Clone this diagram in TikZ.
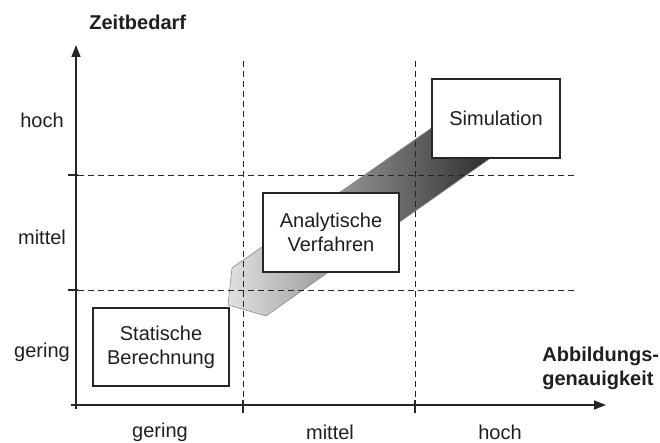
\documentclass[tikz,border=0pt]{standalone}
\usepackage{fontspec}
\setmainfont{Liberation Sans}
\usetikzlibrary{arrows.meta}

\tikzset{
  every node/.style={font=\fontsize{10}{12}\selectfont, text=black!88},
  axisline/.style={line width=0.75pt, draw=black!85},
  gridline/.style={line width=0.45pt, draw=black!85, dash pattern=on 3pt off 2pt},
  method/.style={draw=black!85, line width=0.6pt, fill=white, align=center,
    inner sep=0pt},
  axistitle/.style={font=\fontsize{10}{12}\selectfont\bfseries, inner sep=0pt},
  band/.style={left color=black!12, right color=black!88, draw=black!45, line width=0.3pt}
}

\begin{document}
\begin{tikzpicture}[x=0.5pt, y=-0.5pt]
  \useasboundingbox (0,0) rectangle (660,443);
  % Origin of the axes
  \coordinate (O) at (76,405);
  \coordinate (ytip) at (76,45);
  \coordinate (xtip) at (606,405);

  % Shaded band from low to high effort
  \draw[band] (232,268) -- (228,305) -- (266,316) -- (512,143) -- (470,101) -- cycle;

  % Grid (dashed)
  \draw[gridline] (243,61) -- (243,412);
  \draw[gridline] (415,61) -- (415,412);
  \draw[gridline] (68,175) -- (576,175);
  \draw[gridline] (68,290) -- (576,290);
  \draw[axisline] (68,175) -- (78,175);
  \draw[axisline] (68,290) -- (78,290);

  % Axes
  \draw[axisline, -{Triangle[length=6pt,width=4.5pt]}] (76,409) -- (ytip);
  \draw[axisline, -{Triangle[length=6pt,width=4.5pt]}] (71,405) -- (xtip);
  \draw[axisline] (243,400) -- (243,413);
  \draw[axisline] (415,400) -- (415,413);

  % Axis titles
  \node[axistitle, anchor=west] (ztitle) at (89,22) {Zeitbedarf};
  \node[axistitle, anchor=west, align=left] (atitle) at (542,368) {Abbildungs-\\genauigkeit};

  % Levels on the y axis
  \node (yhoch) at (42,120) {hoch};
  \node (ymittel) at (42,237) {mittel};
  \node (ygering) at (42,352) {gering};

  % Levels on the x axis
  \node (xgering) at (160,432) {gering};
  \node (xmittel) at (330,432) {mittel};
  \node (xhoch) at (500,432) {hoch};

  % Methods
  \node[method, minimum width=68pt, minimum height=39pt] (stat) at (161,347) {Statische\\Berechnung};
  \node[method, minimum width=68pt, minimum height=39.5pt] (ana) at (331,232.5) {Analytische\\Verfahren};
  \node[method, minimum width=64pt, minimum height=39.5pt] (sim) at (496,118.5) {Simulation};
\end{tikzpicture}
\end{document}
